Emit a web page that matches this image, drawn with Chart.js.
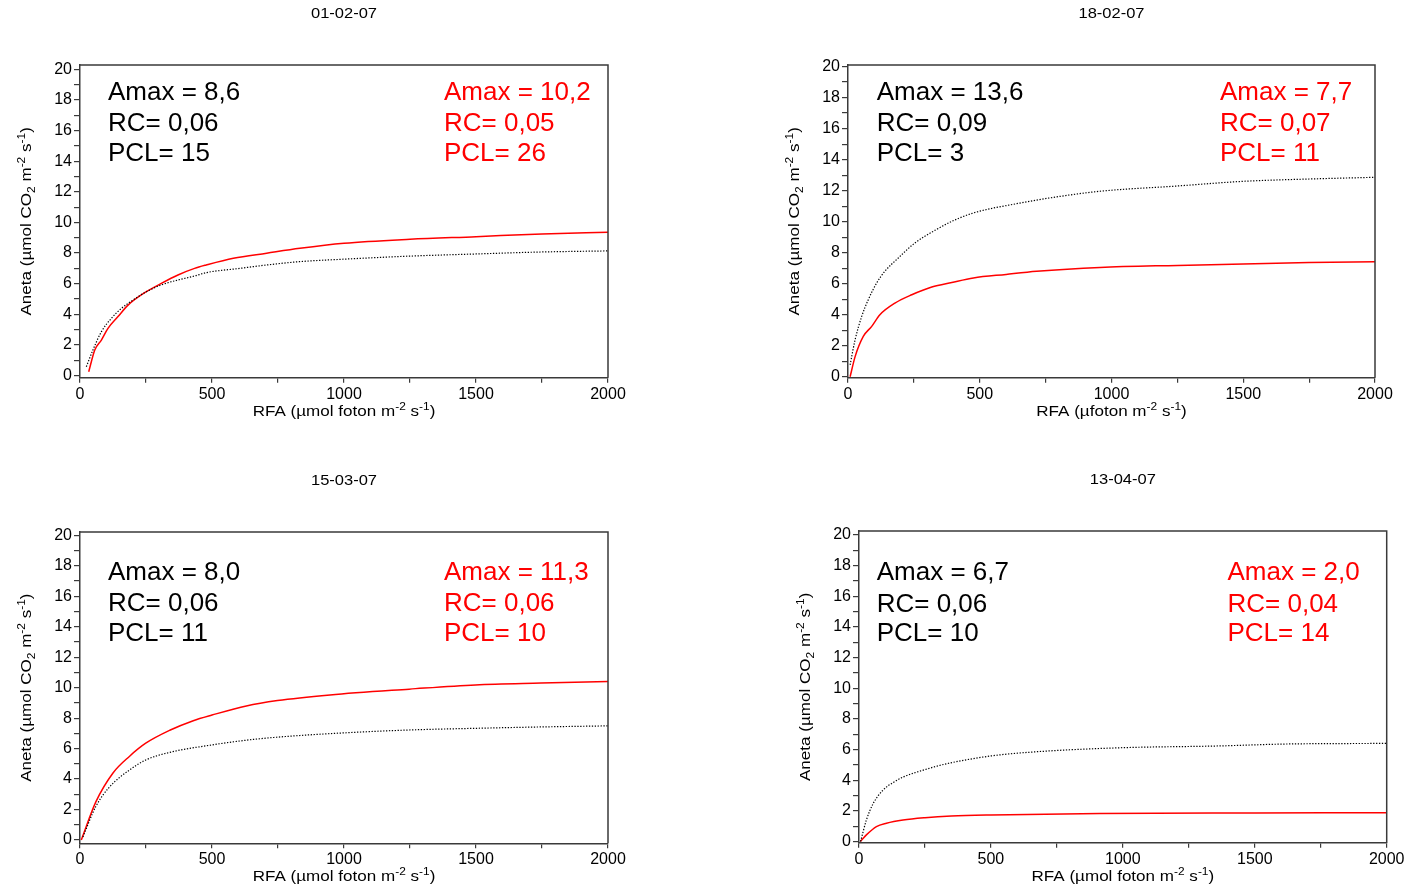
<!DOCTYPE html>
<html><head><meta charset="utf-8">
<script src="https://cdn.jsdelivr.net/npm/chart.js@4/dist/chart.umd.min.js"></script>
<style>
html,body{margin:0;padding:0;background:#fff;}
body{width:1409px;height:888px;overflow:hidden;position:relative;}
.q{position:absolute;}
canvas{display:block;}
</style>
</head><body>
<div class="q" style="left:0;top:0"><canvas id="c1" width="704" height="444"></canvas></div>
<div class="q" style="left:704px;top:0"><canvas id="c2" width="705" height="444"></canvas></div>
<div class="q" style="left:0;top:444px"><canvas id="c3" width="704" height="444"></canvas></div>
<div class="q" style="left:704px;top:444px"><canvas id="c4" width="705" height="444"></canvas></div>
<script>
// ---------- DATA ----------
const titles = ['01-02-07', '18-02-07', '15-03-07', '13-04-07'];
const xTicks = [0, 250, 500, 750, 1000, 1250, 1500, 1750, 2000];
const yTicks = [0, 1, 2, 3, 4, 5, 6, 7, 8, 9, 10, 11, 12, 13, 14, 15, 16, 17, 18, 19, 20];

const blackText1 = ['Amax = 8,6', 'RC= 0,06', 'PCL= 15'];
const redText1   = ['Amax = 10,2', 'RC= 0,05', 'PCL= 26'];
const blackText2 = ['Amax = 13,6', 'RC= 0,09', 'PCL= 3'];
const redText2   = ['Amax = 7,7', 'RC= 0,07', 'PCL= 11'];
const blackText3 = ['Amax = 8,0', 'RC= 0,06', 'PCL= 11'];
const redText3   = ['Amax = 11,3', 'RC= 0,06', 'PCL= 10'];
const blackText4 = ['Amax = 6,7', 'RC= 0,06', 'PCL= 10'];
const redText4   = ['Amax = 2,0', 'RC= 0,04', 'PCL= 14'];

// chart 1 (01-02-07)
const c1RedX   = [33, 56, 81, 106, 144, 182, 245, 308, 371, 434, 478, 581, 707, 833, 1000, 1250, 1500, 1750, 2000];
const c1RedY   = [0.25, 1.67, 2.32, 3.08, 3.85, 4.6, 5.41, 6.02, 6.57, 7.0, 7.22, 7.66, 7.99, 8.31, 8.64, 8.9, 9.07, 9.25, 9.36];
const c1BlackX = [24, 49, 81, 119, 157, 201, 245, 308, 371, 434, 478, 606, 707, 833, 1000, 1250, 1500, 1750, 2000];
const c1BlackY = [0.58, 1.67, 2.86, 3.74, 4.39, 4.93, 5.41, 5.92, 6.24, 6.5, 6.72, 7.0, 7.22, 7.44, 7.6, 7.8, 7.94, 8.07, 8.14];
// chart 2 (18-02-07)
const c2RedX   = [8, 27, 58, 90, 121, 178, 242, 318, 394, 476, 600, 716, 956, 1250, 1500, 1750, 2000];
const c2RedY   = [0, 1.3, 2.6, 3.25, 4.0, 4.75, 5.29, 5.79, 6.08, 6.37, 6.6, 6.8, 7.05, 7.18, 7.27, 7.36, 7.42];
const c2BlackX = [8, 27, 52, 77, 109, 140, 191, 254, 330, 394, 476, 653, 805, 956, 1250, 1500, 1750, 2000];
const c2BlackY = [0.77, 2.39, 3.89, 4.97, 6.05, 6.8, 7.66, 8.63, 9.44, 10.02, 10.56, 11.2, 11.63, 11.96, 12.3, 12.6, 12.75, 12.86];
// chart 3 (15-03-07)
const c3RedX   = [5, 60, 125, 188, 249, 340, 429, 500, 630, 748, 947, 1247, 1498, 1746, 2000];
const c3RedY   = [0, 2.5, 4.4, 5.5, 6.35, 7.2, 7.83, 8.2, 8.8, 9.15, 9.52, 9.9, 10.18, 10.3, 10.4];
const c3BlackX = [11, 60, 113, 188, 249, 340, 500, 630, 748, 947, 1247, 1498, 1746, 2000];
const c3BlackY = [0.2, 2.2, 3.5, 4.6, 5.25, 5.75, 6.24, 6.55, 6.75, 6.98, 7.22, 7.33, 7.42, 7.49];
// chart 4 (13-04-07)
const c4RedX   = [5, 28, 66, 104, 167, 250, 350, 500, 913, 1500, 2000];
const c4RedY   = [0, 0.43, 0.97, 1.19, 1.4, 1.55, 1.66, 1.73, 1.82, 1.86, 1.88];
const c4BlackX = [6, 28, 53, 91, 130, 167, 256, 334, 500, 677, 1000, 1355, 1621, 2000];
const c4BlackY = [0, 1.4, 2.45, 3.35, 3.85, 4.2, 4.72, 5.08, 5.58, 5.86, 6.12, 6.23, 6.36, 6.4];

// ---------- LAYOUT / STYLE ----------
const FONT = "'Liberation Sans', Arial, Helvetica, sans-serif";
const AXIS_COLOR = '#3a3a3a';
const TEXT_STRETCH = 1.1;
const YW = 60, XH = 40;
const layouts = [
  {id:'c1', w:704, h:444, plot:{l:80, r:608, t:65, b:377.7}, yMin:-0.14, yMax:20.28, blackX:108, redX:444, textY:[100,130.5,161]},
  {id:'c2', w:705, h:444, plot:{l:144, r:671, t:65, b:377.7}, yMin:-0.06, yMax:20.1, blackX:172.7, redX:516, textY:[100,131,161]},
  {id:'c3', w:704, h:444, plot:{l:80, r:608, t:88, b:399.3}, yMin:-0.22, yMax:20.22, blackX:108, redX:444, textY:[136,167,197]},
  {id:'c4', w:705, h:444, plot:{l:155, r:682.7, t:87, b:398.7}, yMin:-0.08, yMax:20.26, blackX:172.7, redX:523.5, textY:[136,167.5,196.7]}
];
const yTitleSegs = [['Aneta (µmol CO',0],['2',-1],[' m',0],['-2',1],[' s',0],['-1',1],[')',0]];
const xTitleSegsA = [['RFA (µmol foton m',0],['-2',1],[' s',0],['-1',1],[')',0]];
const xTitleSegsB = [['RFA (µfoton m',0],['-2',1],[' s',0],['-1',1],[')',0]];

const pts = (xs, ys) => xs.map((x, i) => ({x: x, y: ys[i]}));

const chartDefs = [
  {title: titles[0], black: pts(c1BlackX, c1BlackY), red: pts(c1RedX, c1RedY), bt: blackText1, rt: redText1, xt: xTitleSegsA},
  {title: titles[1], black: pts(c2BlackX, c2BlackY), red: pts(c2RedX, c2RedY), bt: blackText2, rt: redText2, xt: xTitleSegsB},
  {title: titles[2], black: pts(c3BlackX, c3BlackY), red: pts(c3RedX, c3RedY), bt: blackText3, rt: redText3, xt: xTitleSegsA},
  {title: titles[3], black: pts(c4BlackX, c4BlackY), red: pts(c4RedX, c4RedY), bt: blackText4, rt: redText4, xt: xTitleSegsA}
];

function segWidth(ctx, segs, size) {
  let w = 0;
  for (const [t, s] of segs) {
    ctx.font = (s ? size * 0.7 : size) + 'px ' + FONT;
    w += ctx.measureText(t).width;
  }
  return w;
}
// draws centered rich text at (0,0) in the current transform, stretched horizontally
function drawSegsCentered(ctx, segs, size) {
  const w = segWidth(ctx, segs, size);
  ctx.save();
  ctx.scale(TEXT_STRETCH, 1);
  let cx = -w / 2;
  ctx.textAlign = 'left';
  for (const [t, s] of segs) {
    const fs = s ? size * 0.7 : size;
    ctx.font = fs + 'px ' + FONT;
    const dy = s === 1 ? -size * 0.38 : (s === -1 ? size * 0.25 : 0);
    ctx.fillText(t, cx, dy);
    cx += ctx.measureText(t).width;
  }
  ctx.restore();
}

const decorPlugin = {
  id: 'decor',
  afterDraw(chart, args, opts) {
    const ctx = chart.ctx, a = chart.chartArea;
    const def = opts.def, lay = opts.lay;
    ctx.save();
    // frame top + right
    ctx.strokeStyle = AXIS_COLOR;
    ctx.lineWidth = 1.5;
    ctx.beginPath();
    ctx.moveTo(a.left, a.top);
    ctx.lineTo(a.right, a.top);
    ctx.lineTo(a.right, a.bottom);
    ctx.stroke();
    ctx.fillStyle = '#000';
    ctx.textBaseline = 'alphabetic';
    const cx = (a.left + a.right) / 2;
    // title
    ctx.save();
    ctx.translate(cx, a.top - 47);
    drawSegsCentered(ctx, [[def.title, 0]], 15);
    ctx.restore();
    // x title
    ctx.save();
    ctx.translate(cx, a.bottom + 38);
    drawSegsCentered(ctx, def.xt, 15.5);
    ctx.restore();
    // y title rotated
    ctx.save();
    ctx.translate(a.left - 49, (a.top + a.bottom) / 2);
    ctx.rotate(-Math.PI / 2);
    drawSegsCentered(ctx, yTitleSegs, 15.5);
    ctx.restore();
    // annotation texts
    ctx.font = '26px ' + FONT;
    ctx.textAlign = 'left';
    def.bt.forEach((t, i) => { ctx.fillStyle = '#000'; ctx.fillText(t, lay.blackX, lay.textY[i]); });
    def.rt.forEach((t, i) => { ctx.fillStyle = '#ff0000'; ctx.fillText(t, lay.redX, lay.textY[i]); });
    ctx.restore();
  }
};

chartDefs.forEach((def, i) => {
  const lay = layouts[i];
  const p = lay.plot;
  new Chart(document.getElementById(lay.id), {
    type: 'line',
    data: {
      datasets: [
        {data: def.black, borderColor: '#000', borderWidth: 1.2, borderDash: [1.3, 1.6], pointRadius: 0, cubicInterpolationMode: 'monotone', fill: false},
        {data: def.red, borderColor: '#ff0000', borderWidth: 1.5, pointRadius: 0, cubicInterpolationMode: 'monotone', fill: false}
      ]
    },
    options: {
      responsive: false,
      animation: false,
      events: [],
      layout: {padding: {left: p.l - YW, right: lay.w - p.r, top: p.t, bottom: lay.h - p.b - XH}},
      plugins: {legend: {display: false}, tooltip: {enabled: false}, title: {display: false}, decor: {def: def, lay: lay}},
      scales: {
        x: {
          type: 'linear', min: 0, max: 2000,
          afterFit(s) { s.height = XH; },
          afterBuildTicks(s) { s.ticks = xTicks.map(v => ({value: v})); },
          ticks: {autoSkip: false, maxRotation: 0, padding: 2, color: '#000', font: {family: FONT, size: 16},
                  callback: (v) => (v % 500 === 0 ? String(v) : '')},
          grid: {drawOnChartArea: false, drawTicks: true, tickLength: 5, color: AXIS_COLOR, lineWidth: 1.2},
          border: {display: true, color: AXIS_COLOR, width: 1.5}
        },
        y: {
          type: 'linear', min: lay.yMin, max: lay.yMax,
          afterFit(s) { s.width = YW; },
          afterBuildTicks(s) { s.ticks = yTicks.map(v => ({value: v})); },
          ticks: {autoSkip: false, padding: 2, color: '#000', font: {family: FONT, size: 16},
                  callback: (v) => (v % 2 === 0 ? String(v) : '')},
          grid: {drawOnChartArea: false, drawTicks: true, tickLength: 6, color: AXIS_COLOR, lineWidth: 1.2},
          border: {display: true, color: AXIS_COLOR, width: 1.5}
        }
      }
    },
    plugins: [decorPlugin]
  });
});
</script>
</body></html>
